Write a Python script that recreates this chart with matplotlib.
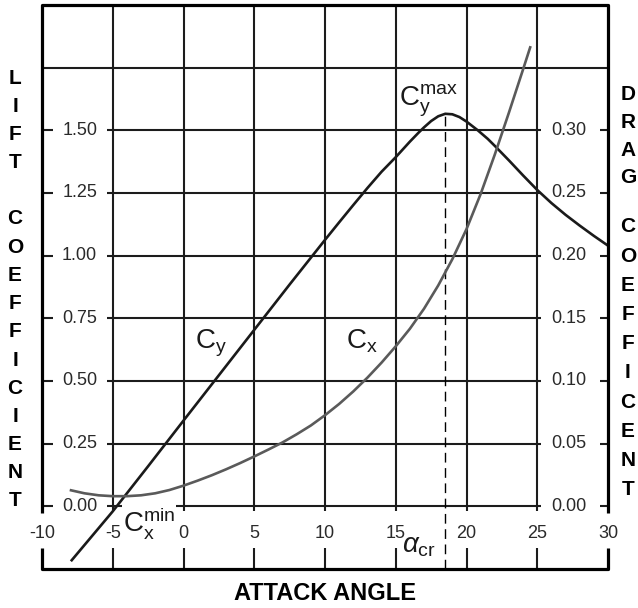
import matplotlib
matplotlib.use("Agg")
import matplotlib.pyplot as plt

# lift coefficient Cy vs attack angle
angle_cy = [-7.9, -5, -2.5, 0, 2.5, 5, 7.5, 10, 11, 12, 13, 14, 15, 16, 16.6, 17,
            17.5, 18, 18.5, 19, 19.5, 20, 20.8, 21.5, 22, 23, 24, 25, 26, 27, 28,
            29, 30]
lift = [-0.215, -0.02, 0.16, 0.342, 0.523, 0.704, 0.885, 1.063, 1.133, 1.202,
        1.27, 1.335, 1.393, 1.455, 1.49, 1.512, 1.537, 1.556, 1.566, 1.564, 1.553,
        1.535, 1.5, 1.466, 1.438, 1.38, 1.32, 1.262, 1.21, 1.163, 1.12, 1.079, 1.04]

# drag coefficient Cx vs attack angle
angle_cx = [-7.95, -7, -6, -5, -4, -3, -2, -1, 0, 1, 2, 3, 4, 5, 6, 7, 8, 9, 10,
            11, 12, 13, 14, 15, 16, 17, 18, 19, 20, 21, 22, 23, 24, 24.5]
drag = [0.0128, 0.0104, 0.0088, 0.0081, 0.0081, 0.0088, 0.0104, 0.0130, 0.0165,
        0.0205, 0.0248, 0.0295, 0.0345, 0.0398, 0.0453, 0.0510, 0.0575, 0.0645,
        0.0727, 0.0817, 0.0917, 0.1027, 0.1147, 0.1277, 0.1417, 0.1577, 0.1762,
        0.1972, 0.2212, 0.2492, 0.2807, 0.3142, 0.3487, 0.3662]

angle_ticks = [-10, -5, 0, 5, 10, 15, 20, 25, 30]
lift_ticks = [0.0, 0.25, 0.5, 0.75, 1.0, 1.25, 1.5]
drag_ticks = [0.0, 0.05, 0.10, 0.15, 0.20, 0.25, 0.30]
alpha_cr = 18.5
cy_max = 1.566

plt.rcParams["font.family"] = ["Liberation Sans", "DejaVu Sans"]
plt.rcParams["mathtext.fontset"] = "custom"
plt.rcParams["mathtext.rm"] = "Liberation Sans"
plt.rcParams["mathtext.it"] = "Liberation Sans:italic"

W, H = 638, 608
fig = plt.figure(figsize=(W / 100, H / 100), dpi=100)
ax = fig.add_axes([42 / W, 39 / H, 566 / W, 564 / H])
ax.set_xlim(-10, 30)
ax.set_ylim(-0.25, 2.0)
ax.axis("off")
ax2 = ax.twinx()
ax2.set_ylim(-0.05, 0.40)
ax2.axis("off")

grid_kw = dict(color="#1c1c1c", lw=1.5, zorder=1)
inner = angle_ticks[1:-1]
ax.vlines(inner, -0.02, 2.0, **grid_kw)
ax.vlines(inner, -0.25, -0.167, **grid_kw)
ax.hlines(lift_ticks, -5.43, 25.3, **grid_kw)
ax.hlines(1.75, -10, 30, **grid_kw)
ax.hlines(lift_ticks, -10, -9.2, **grid_kw)
ax.hlines(lift_ticks, 29.4, 30, **grid_kw)

# frame, open where the -10 and 30 labels sit
frame_kw = dict(color="black", lw=2.3, solid_joinstyle="round",
                solid_capstyle="butt", clip_on=False, zorder=4)
ax.plot([-10, -10, 30, 30], [-0.025, 2.0, 2.0, -0.025], **frame_kw)
ax.plot([-10, -10, 30, 30], [-0.165, -0.25, -0.25, -0.165], **frame_kw)

# curves
ax.plot(angle_cy, lift, color="#1a1a1a", lw=1.9, zorder=3, clip_on=False)
ax2.plot(angle_cx, drag, color="#5a5a5a", lw=1.9, zorder=3, clip_on=False)
ax.vlines(alpha_cr, -0.25, cy_max, colors="black", lw=1.0,
          linestyles=(0, (7, 4)), zorder=2)

# tick labels
tick_kw = dict(fontsize=13, color="#2a2a2a")
for v in lift_ticks:
    ax.text(-6.1, v, f"{v:.2f}", ha="right", va="center", **tick_kw)
for v in drag_ticks:
    ax2.text(26.0, v, f"{v:.2f}", ha="left", va="center", **tick_kw)
for a in angle_ticks:
    ax.text(a, -0.107, str(a), ha="center", va="center", **tick_kw)

# curve annotations
lab_kw = dict(fontsize=20, color="#1a1a1a", ha="left", va="baseline", zorder=2.5)
ax.text(0.78, 0.631, r"$\mathregular{C_y}$", **lab_kw)
ax.text(11.5, 0.631, r"$\mathregular{C_x}$", **lab_kw)
ax.text(15.23, 1.60, r"$\mathregular{C_y^{max}}$", **lab_kw)
ax.text(-4.3, -0.10, r"$\mathregular{C_x^{min}}$",
        bbox=dict(fc="white", ec="none", pad=0.5), **lab_kw)
ax.text(15.44, -0.185, r"$\alpha_\mathregular{cr}$", **lab_kw)

# axis titles
title_kw = dict(fontsize=15, fontweight="bold", ha="center", va="center")
y = 78
for ch in "LIFT COEFFICIENT":
    if ch != " ":
        fig.text(15 / W, 1 - y / H, ch, **title_kw)
    y += 28.2
for word, y0, step in (("DRAG", 95, 27.5), ("COEFFICENT", 227, 29.2)):
    for i, ch in enumerate(word):
        fig.text(628 / W, 1 - (y0 + i * step) / H, ch, **title_kw)
fig.text(325 / W, 1 - 594 / H, "ATTACK ANGLE", fontsize=17, fontweight="bold",
         ha="center", va="center")

fig.savefig("out.png", dpi=100, facecolor="white")
